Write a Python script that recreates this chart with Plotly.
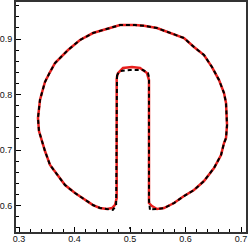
import plotly.graph_objects as go

# Red solid interface (reference solution)
red_x = [0.4760, 0.4760, 0.4730, 0.4676, 0.4586, 0.4459, 0.4333, 0.4189, 0.4009, 0.3829,
         0.3685, 0.3559, 0.3468, 0.3414, 0.3360, 0.3342, 0.3366, 0.3378, 0.3427, 0.3468,
         0.3559, 0.3649, 0.3883, 0.4099, 0.4333, 0.4459, 0.4640, 0.4820, 0.5090, 0.5252,
         0.5486, 0.5739, 0.5973, 0.6153, 0.6333, 0.6477, 0.6604, 0.6694, 0.6730, 0.6748,
         0.6730, 0.6694, 0.6640, 0.6514, 0.6333, 0.6153, 0.5973, 0.5793, 0.5613, 0.5486,
         0.5396, 0.5342, 0.5342, 0.5306, 0.5180, 0.5036, 0.4874, 0.4784, 0.4760]
red_y = [0.8297, 0.6135, 0.6010, 0.5955, 0.5937, 0.5955, 0.6009, 0.6099, 0.6225, 0.6369,
         0.6550, 0.6730, 0.6982, 0.7162, 0.7342, 0.7577, 0.7847, 0.7901, 0.8081, 0.8225,
         0.8405, 0.8568, 0.8802, 0.8982, 0.9108, 0.9144, 0.9198, 0.9252, 0.9252, 0.9240,
         0.9198, 0.9108, 0.9018, 0.8856, 0.8712, 0.8495, 0.8261, 0.8027, 0.7847, 0.7450,
         0.7216, 0.7126, 0.6910, 0.6676, 0.6441, 0.6279, 0.6171, 0.6045, 0.5955, 0.5937,
         0.5991, 0.6045, 0.8261, 0.8387, 0.8477, 0.8495, 0.8477, 0.8387, 0.8297]

# Black dashed interface (computed)
black_x = [0.4766, 0.4762, 0.4750, 0.4690, 0.4640, 0.4586, 0.4459, 0.4333, 0.4189, 0.4009,
           0.3829, 0.3685, 0.3559, 0.3468, 0.3414, 0.3360, 0.3342, 0.3366, 0.3378, 0.3427,
           0.3468, 0.3559, 0.3649, 0.3883, 0.4099, 0.4333, 0.4459, 0.4640, 0.4820, 0.5090,
           0.5252, 0.5486, 0.5739, 0.5973, 0.6153, 0.6333, 0.6477, 0.6604, 0.6694, 0.6730,
           0.6748, 0.6730, 0.6694, 0.6640, 0.6514, 0.6333, 0.6153, 0.5973, 0.5793, 0.5613,
           0.5486, 0.5400, 0.5360, 0.5350, 0.5342, 0.5342, 0.5324, 0.5234, 0.5000, 0.4820,
           0.4766]
black_y = [0.8351, 0.6135, 0.6000, 0.5920, 0.5930, 0.5937, 0.5955, 0.6009, 0.6099, 0.6225,
           0.6369, 0.6550, 0.6730, 0.6982, 0.7162, 0.7342, 0.7577, 0.7847, 0.7901, 0.8081,
           0.8225, 0.8405, 0.8568, 0.8802, 0.8982, 0.9108, 0.9144, 0.9198, 0.9252, 0.9252,
           0.9240, 0.9198, 0.9108, 0.9018, 0.8856, 0.8712, 0.8495, 0.8261, 0.8027, 0.7847,
           0.7450, 0.7216, 0.7126, 0.6910, 0.6676, 0.6441, 0.6279, 0.6171, 0.6045, 0.5955,
           0.5937, 0.5935, 0.5915, 0.6000, 0.6100, 0.8315, 0.8387, 0.8441, 0.8441, 0.8423,
           0.8351]

dot_x = [0.5000]
dot_y = [0.5595]

x_ticks = [0.3, 0.4, 0.5, 0.6, 0.7]
y_ticks = [0.6, 0.7, 0.8, 0.9]

fig = go.Figure()
fig.add_trace(go.Scatter(x=red_x, y=red_y, mode="lines",
                         line=dict(color="#e8201e", width=2.5), showlegend=False))
fig.add_trace(go.Scatter(x=black_x, y=black_y, mode="lines",
                         line=dict(color="black", width=2, dash="4px,3px"), showlegend=False))
fig.add_trace(go.Scatter(x=dot_x, y=dot_y, mode="markers",
                         marker=dict(color="black", size=2), showlegend=False))

axis_common = dict(
    showgrid=False, zeroline=False, showline=True, mirror=True,
    linecolor="#333333", linewidth=2,
    ticks="inside", ticklen=5, tickwidth=1, tickcolor="black",
    tickfont=dict(family="Arial, Liberation Sans, sans-serif", size=9, color="#111111"),
    minor=dict(ticks="inside", ticklen=3, tickwidth=1, tickcolor="black", dtick=0.02),
)

fig.update_layout(
    width=249, height=243,
    margin=dict(l=16, r=3, t=2, b=11),
    plot_bgcolor="white", paper_bgcolor="white",
    xaxis=dict(range=[0.2946, 0.7090], tickvals=x_ticks, ticklabelstandoff=-3,
               ticktext=[f"{v:.1f}" for v in x_ticks], automargin=False, **axis_common),
    yaxis=dict(range=[0.5523, 0.9667], tickvals=y_ticks,
               ticktext=[f"{v:.1f}" for v in y_ticks], automargin=False, **axis_common),
)

fig.write_html("out.html", config={"displayModeBar": False},
               post_script="document.body.style.margin='0';")
